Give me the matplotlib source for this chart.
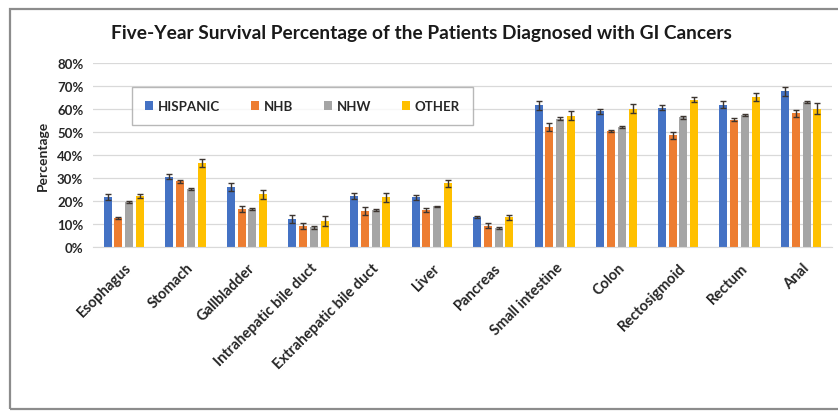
import matplotlib
matplotlib.use("Agg")
import matplotlib.pyplot as plt
from matplotlib.patches import Rectangle, Patch
from matplotlib.ticker import MultipleLocator, PercentFormatter
import matplotlib.transforms as mtransforms
import numpy as np

plt.rcParams['font.family'] = ['Lato', 'DejaVu Sans']

sites = ["Esophagus", "Stomach", "Gallbladder", "Intrahepatic bile duct",
         "Extrahepatic bile duct", "Liver", "Pancreas", "Small intestine",
         "Colon", "Rectosigmoid", "Rectum", "Anal"]
groups = ["HISPANIC", "NHB", "NHW", "OTHER"]

hispanic = [21.5, 30.5, 26.0, 12.0, 22.0, 21.5, 13.0, 61.5, 58.8, 60.5, 61.8, 67.5]
nhb      = [12.5, 28.4, 16.5, 9.0, 15.5, 16.0, 9.2, 52.0, 50.4, 48.5, 55.2, 58.0]
nhw      = [19.6, 25.2, 16.3, 8.4, 16.0, 17.5, 8.2, 55.6, 52.0, 56.2, 57.4, 62.9]
other    = [22.0, 36.5, 22.8, 11.2, 21.5, 27.5, 12.8, 57.0, 60.0, 64.0, 65.0, 60.0]

hispanic_err = [1.3, 1.2, 1.8, 1.8, 1.3, 1.0, 0.4, 2.0, 1.0, 1.2, 1.4, 1.8]
nhb_err      = [0.5, 0.5, 1.4, 1.5, 1.6, 0.7, 0.9, 1.6, 0.4, 1.5, 0.6, 1.6]
nhw_err      = [0.4, 0.4, 0.5, 0.6, 0.6, 0.4, 0.4, 0.6, 0.4, 0.6, 0.4, 0.6]
other_err    = [1.0, 1.8, 2.0, 2.2, 2.0, 1.5, 1.0, 2.0, 2.0, 1.0, 1.8, 2.5]

values = [hispanic, nhb, nhw, other]
errors = [hispanic_err, nhb_err, nhw_err, other_err]
colors = ["#4472C4", "#ED7D31", "#A5A5A5", "#FFC000"]

W, H = 838, 414
fig = plt.figure(figsize=(W / 100, H / 100), dpi=100)
ax = fig.add_axes([93 / W, 1 - 247.7 / H, (832 - 93) / W, (247.7 - 63.7) / H])

x = np.arange(len(sites))
step = 0.175
width = 0.13
for i, (vals, errs, col) in enumerate(zip(values, errors, colors)):
    pos = x + (i - 1.5) * step
    ax.bar(pos, np.array(vals) / 100, width=width, color=col, zorder=2)
    ax.errorbar(pos, np.array(vals) / 100, yerr=np.array(errs) / 100,
                fmt="none", ecolor="#3d3530", elinewidth=1.0, capsize=2.5,
                capthick=1.0, zorder=3)

ax.set_xlim(-0.5, len(sites) - 0.5)
ax.set_ylim(0, 0.8)
ax.yaxis.set_major_locator(MultipleLocator(0.1))
ax.yaxis.set_major_formatter(PercentFormatter(1.0, decimals=0))
ax.grid(axis="y", color="#d9d9d9", linewidth=0.9, zorder=0)
ax.set_axisbelow(True)
for s in ["top", "right", "left"]:
    ax.spines[s].set_visible(False)
ax.spines["bottom"].set_color("#d9d9d9")
ax.tick_params(axis="both", length=0, labelsize=9.5, colors="#262626")
ax.tick_params(axis="y", pad=7)
ax.tick_params(axis="x", pad=4)
for lbl in ax.get_yticklabels():
    lbl.set_fontweight("bold")
ax.set_xticks(x)
ax.set_xticklabels(sites, rotation=45, ha="right", va="top",
                   rotation_mode="anchor", fontweight="bold", fontsize=10.5)
shift = mtransforms.ScaledTranslation(1 / 100, -8 / 100, fig.dpi_scale_trans)
for lbl in ax.get_xticklabels():
    lbl.set_transform(lbl.get_transform() + shift)

ax.set_ylabel("Percentage", fontsize=10, fontweight="bold", color="#262626", labelpad=6)

handles = [Patch(facecolor=c, edgecolor="none") for c in colors]
leg = ax.legend(handles, groups, ncol=4, mode="expand",
                bbox_to_anchor=((132 - 93) / (832 - 93), (247.7 - 127) / 184,
                                (473 - 132) / (832 - 93), (127 - 87) / 184),
                loc="center", borderaxespad=0, frameon=True, fancybox=False,
                handlelength=0.6, handleheight=0.6, handletextpad=0.35,
                borderpad=1.0, prop={"weight": "bold", "size": 9.5})
leg.get_frame().set_edgecolor("#a6a6a6")
leg.get_frame().set_linewidth(1.0)
for t in leg.get_texts():
    t.set_color("#262626")

fig.text(0.5 * (107 + 735) / W, 1 - 33 / H,
         "Five-Year Survival Percentage of the Patients Diagnosed with GI Cancers",
         ha="center", va="center", fontsize=13.8, fontweight="bold", color="#1a1a1a")

frame = Rectangle((10 / W, 1 - 410 / H), (W + 10 - 10) / W, (410 - 10) / H,
                  transform=fig.transFigure, fill=False, edgecolor="#8c8c8c",
                  linewidth=1.6, clip_on=False)
fig.patches.append(frame)

fig.savefig("out.png", dpi=100)
